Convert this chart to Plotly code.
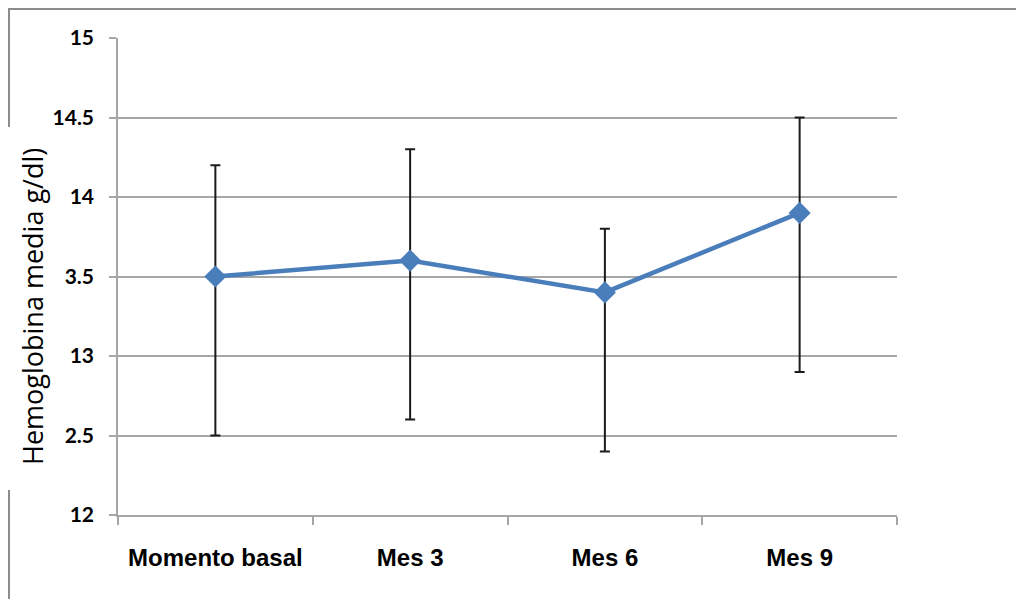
import plotly.graph_objects as go

categories = ["Momento basal", "Mes 3", "Mes 6", "Mes 9"]
hb_mean = [13.5, 13.6, 13.4, 13.9]
err_plus = [0.7, 0.7, 0.4, 0.6]
err_minus = [1.0, 1.0, 1.0, 1.0]
y_tickvals = [12, 12.5, 13, 13.5, 14, 14.5, 15]
y_ticktext = ["12", "2.5", "13", "3.5", "14", "14.5", "15"]
y_title = "Hemoglobina media g/dl)"

# page body has an 8px margin, so the figure is sized to fit the window
OFF = 8
W, H = 1024 - OFF, 599 - OFF
ml, mt = 118 - OFF, 38 - OFF
mr = W - (897 - OFF)
mb = H - (515 - OFF)
pw, ph = W - ml - mr, H - mt - mb


def px_x(p):
    return (p - OFF - ml) / pw


def px_y(p):
    return (H - mb - (p - OFF)) / ph


fig = go.Figure()
fig.add_trace(go.Scatter(
    x=categories, y=hb_mean, mode="lines+markers",
    line=dict(color="#4a7ebb", width=4.5),
    marker=dict(symbol="diamond", size=17, color="#4a7ebb"),
    error_y=dict(type="data", symmetric=False, array=err_plus, arrayminus=err_minus,
                 color="#1a1a1a", thickness=2, width=5),
    showlegend=False,
))

grid = "#a6a6a6"
fig.update_layout(
    width=W, height=H,
    margin=dict(l=ml, r=mr, t=mt, b=mb),
    paper_bgcolor="white", plot_bgcolor="white",
    xaxis=dict(
        type="category", range=[-0.5, len(categories) - 0.5],
        showgrid=False, showline=True, linecolor=grid, linewidth=1.5,
        ticks="outside", tickson="boundaries", ticklen=8, tickcolor=grid, tickwidth=1.5,
        tickfont=dict(family="Liberation Sans, Arial, sans-serif", size=24, color="black", weight="bold"),
        ticklabelstandoff=20,
    ),
    yaxis=dict(
        range=[12, 15], tickvals=y_tickvals, ticktext=y_ticktext,
        showgrid=True, gridcolor=grid, gridwidth=1.5,
        showline=True, linecolor=grid, linewidth=1.5,
        ticks="outside", ticklen=7, tickcolor=grid, tickwidth=1.5,
        tickfont=dict(family="Lato, sans-serif", size=21, color="black", weight="bold"),
        ticklabelstandoff=11,
        zeroline=False,
    ),
    annotations=[dict(
        text=y_title, xref="paper", yref="paper", x=px_x(32), y=px_y(307),
        textangle=-90, showarrow=False, xanchor="center", yanchor="middle",
        font=dict(family="Open Sans, sans-serif", size=27, color="black"),
    )],
    shapes=[
        dict(type="line", xref="paper", yref="paper", x0=px_x(8), x1=px_x(1024), y0=px_y(9), y1=px_y(9),
             line=dict(color="#8c8c8c", width=2)),
        dict(type="line", xref="paper", yref="paper", x0=px_x(9), x1=px_x(9), y0=px_y(9), y1=px_y(127),
             line=dict(color="#8c8c8c", width=2)),
        dict(type="line", xref="paper", yref="paper", x0=px_x(9), x1=px_x(9), y0=px_y(490), y1=px_y(599),
             line=dict(color="#8c8c8c", width=2)),
    ],
)

fig.write_html("out.html")
